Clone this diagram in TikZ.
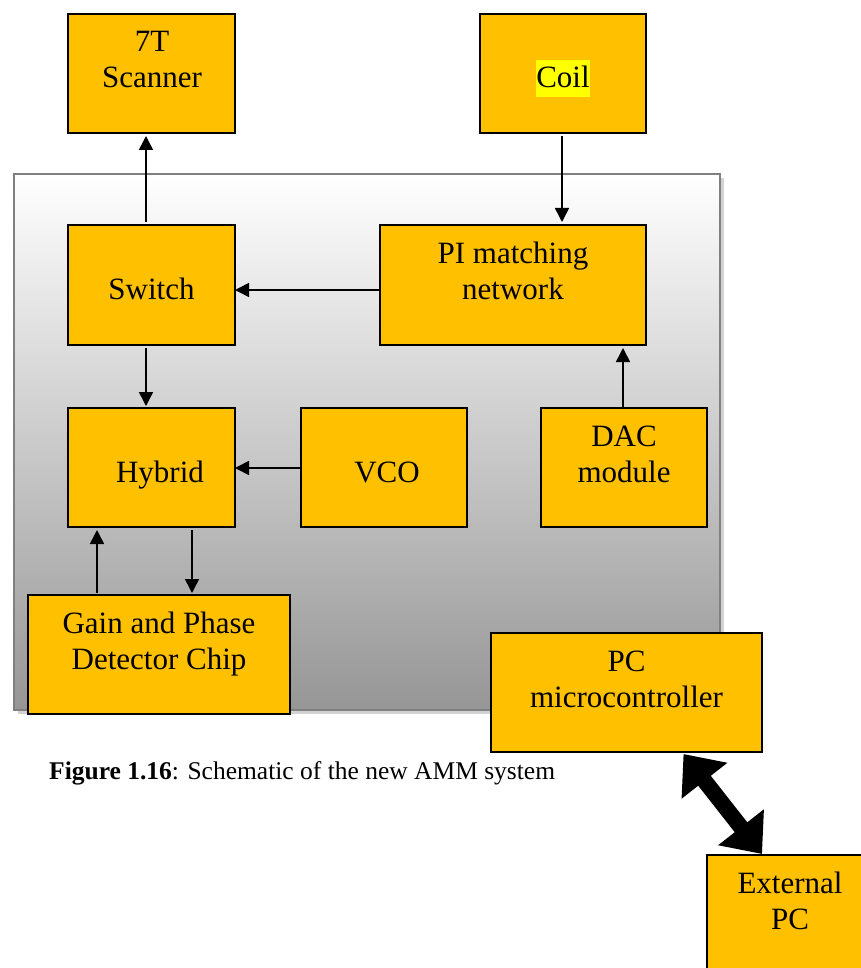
\documentclass[tikz,border=0pt]{standalone}
\usepackage{fontspec}
\setmainfont{Liberation Serif}
\usetikzlibrary{arrows.meta}
\definecolor{boxfill}{HTML}{FFC000}
\definecolor{gbot}{RGB}{150,150,150}
\definecolor{hl}{HTML}{FFFF00}
\begin{document}
\begin{tikzpicture}[x=1pt,y=-1pt,
  blk/.style={draw=black, line width=1.5pt, fill=boxfill, inner sep=0pt, outer sep=0pt, anchor=north west},
  txt/.style={anchor=base, inner sep=0pt, font=\fontsize{31}{36}\selectfont},
  con/.style={line width=1.6pt, -{Triangle[length=14pt,width=14pt]}},
  big/.style={line width=16pt, {Triangle[length=34pt,width=56pt]}-{Triangle[length=34pt,width=56pt]}}]
\useasboundingbox (0,0) rectangle (861,968);
% background panel
\fill[gray!35] (18,178) rectangle (724,714);
\shade[top color=white, bottom color=gbot] (14,174) rectangle (720,710);
\draw[gray, line width=2pt] (14,174) rectangle (720,710);
% boxes
\node[blk, minimum width=167pt, minimum height=119pt] (scan) at (68,14) {};
\node[blk, minimum width=166pt, minimum height=119pt] (coil) at (480,14) {};
\node[blk, minimum width=167pt, minimum height=120pt] (swi) at (68,225) {};
\node[blk, minimum width=266pt, minimum height=120pt] (pi) at (380,225) {};
\node[blk, minimum width=167pt, minimum height=119pt] (hyb) at (68,408) {};
\node[blk, minimum width=166pt, minimum height=119pt] (vco) at (301,408) {};
\node[blk, minimum width=166pt, minimum height=119pt] (dac) at (541,408) {};
\node[blk, minimum width=262pt, minimum height=119pt] (gain) at (28,595) {};
\node[blk, minimum width=271pt, minimum height=119pt] (pcm) at (491,633) {};
\node[blk, minimum width=166pt, minimum height=119pt] (ext) at (707,855) {};
% texts
\node[txt] (scanA) at (152,52) {7T};
\node[txt] (scanB) at (152,88) {Scanner};
\node[txt, fill=hl, text height=28pt, text depth=9pt] (coilA) at (563,88) {Coil};
\node[txt] (swiA) at (151.5,299) {Switch};
\node[txt] (piA) at (513,263) {PI matching};
\node[txt] (piB) at (513,299) {network};
\node[txt] (hybA) at (160,482) {Hybrid};
\node[txt] (vcoA) at (387,482) {VCO};
\node[txt] (dacA) at (624,446) {DAC};
\node[txt] (dacB) at (624,482) {module};
\node[txt] (gainA) at (159,633) {Gain and Phase};
\node[txt] (gainB) at (159,669) {Detector Chip};
\node[txt] (pcmA) at (626.5,671) {PC};
\node[txt] (pcmB) at (626.5,707) {microcontroller};
\node[txt] (extA) at (790,893) {External};
\node[txt] (extB) at (790,929) {PC};
% caption
\node[anchor=base west, inner sep=0pt, font=\fontsize{25.5}{30}\selectfont] (cap) at (49,779) {\textbf{Figure 1.16}: Schematic of the new AMM system};
% connectors
\draw[con, shorten <=3pt, shorten >=3pt] (swi.north -| 146,0) -- (scan.south -| 146,0);
\draw[con, shorten <=3pt, shorten >=3pt] (coil.south -| 562,0) -- (pi.north -| 562,0);
\draw[con] (pi.west |- 0,290) -- (swi.east |- 0,290);
\draw[con, shorten <=3pt, shorten >=2pt] (swi.south -| 146,0) -- (hyb.north -| 146,0);
\draw[con] (vco.west |- 0,468) -- (hyb.east |- 0,468);
\draw[con, shorten >=3pt] (dac.north -| 623,0) -- (pi.south -| 623,0);
\draw[con, shorten <=2pt, shorten >=3pt] (gain.north -| 97,0) -- (hyb.south -| 97,0);
\draw[con, shorten <=3pt, shorten >=2pt] (hyb.south -| 192,0) -- (gain.north -| 192,0);
\draw[big] ([xshift=57pt,yshift=-2pt]pcm.south) -- ([xshift=55pt,yshift=1pt]ext.north west);
\end{tikzpicture}
\end{document}
